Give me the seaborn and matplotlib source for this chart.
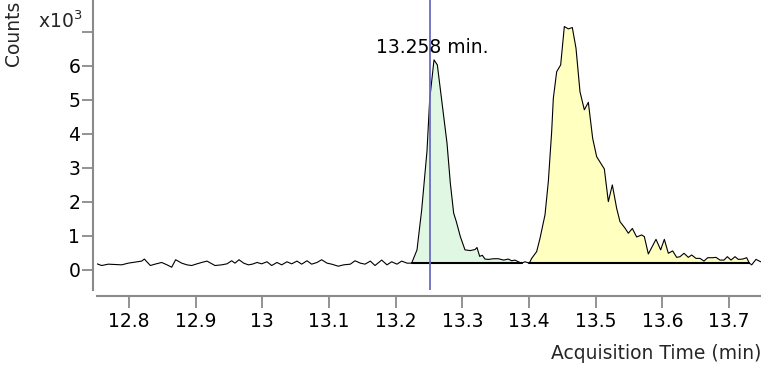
import numpy as np
import matplotlib
matplotlib.use("Agg")
import matplotlib.pyplot as plt
import seaborn as sns

# chromatogram trace (time in min, counts in x10^3)
times = [12.752, 12.759, 12.769, 12.789, 12.799, 12.812, 12.819, 12.823, 12.832, 12.839,
         12.849, 12.857, 12.864, 12.870, 12.879, 12.887, 12.894, 12.902, 12.909, 12.917,
         12.929, 12.939, 12.947, 12.954, 12.959, 12.965, 12.972, 12.979, 12.985, 12.992,
         12.999, 13.007, 13.014, 13.022, 13.029, 13.037, 13.044, 13.052, 13.059, 13.067,
         13.074, 13.082, 13.089, 13.097, 13.104, 13.114, 13.122, 13.132, 13.139, 13.147,
         13.154, 13.162, 13.169, 13.179, 13.187, 13.194, 13.202, 13.209, 13.217, 13.224,
         13.232, 13.239, 13.247, 13.251, 13.2575, 13.2625, 13.269, 13.277, 13.282, 13.287,
         13.291, 13.297, 13.304, 13.312, 13.319, 13.322, 13.326, 13.330, 13.334, 13.339,
         13.347, 13.354, 13.362, 13.369, 13.374, 13.379, 13.384, 13.389, 13.394, 13.4005,
         13.404, 13.4115, 13.4165, 13.424, 13.429, 13.434, 13.4365, 13.4415, 13.4475, 13.453,
         13.459, 13.465, 13.4705, 13.4765, 13.483, 13.489, 13.4955, 13.5015, 13.513, 13.519,
         13.525, 13.5315, 13.5365, 13.544, 13.549, 13.555, 13.5615, 13.569, 13.573, 13.579,
         13.5905, 13.5975, 13.603, 13.609, 13.6155, 13.6215, 13.6265, 13.6325, 13.639, 13.644,
         13.6505, 13.6565, 13.6625, 13.668, 13.6755, 13.6805, 13.6865, 13.6925, 13.6975, 13.703,
         13.709, 13.714, 13.7205, 13.7265, 13.7305, 13.734, 13.7405, 13.7475]
counts = [0.18, 0.13, 0.17, 0.15, 0.20, 0.24, 0.26, 0.32, 0.13, 0.17,
          0.22, 0.15, 0.08, 0.30, 0.20, 0.15, 0.13, 0.18, 0.22, 0.26,
          0.13, 0.15, 0.18, 0.27, 0.20, 0.30, 0.20, 0.15, 0.17, 0.22,
          0.18, 0.24, 0.13, 0.22, 0.15, 0.24, 0.18, 0.26, 0.17, 0.27,
          0.17, 0.22, 0.30, 0.20, 0.17, 0.11, 0.15, 0.17, 0.27, 0.20,
          0.17, 0.26, 0.13, 0.29, 0.15, 0.24, 0.17, 0.26, 0.20, 0.20,
          0.59, 1.76, 3.50, 5.00, 6.18, 6.03, 5.00, 3.73, 2.55, 1.67,
          1.42, 0.98, 0.59, 0.57, 0.60, 0.66, 0.40, 0.43, 0.32, 0.31,
          0.33, 0.33, 0.29, 0.32, 0.27, 0.29, 0.24, 0.20, 0.24, 0.20,
          0.34, 0.54, 0.93, 1.62, 2.60, 4.07, 5.05, 5.83, 6.03, 7.16,
          7.09, 7.13, 6.52, 5.24, 4.71, 4.93, 3.87, 3.33, 2.97, 2.01,
          2.50, 1.81, 1.42, 1.23, 1.08, 1.22, 0.97, 1.03, 0.98, 0.47,
          0.90, 0.59, 0.90, 0.49, 0.56, 0.37, 0.39, 0.49, 0.37, 0.44,
          0.34, 0.34, 0.26, 0.36, 0.36, 0.37, 0.29, 0.29, 0.39, 0.29,
          0.39, 0.31, 0.32, 0.36, 0.20, 0.15, 0.31, 0.24]

# integrated peaks
peak_starts = [13.224, 13.4005]
peak_ends = [13.389, 13.7305]
peak_base = [0.20, 0.20]
peak_colors = ['#e0f8e3', '#ffffc0']

marker_time = 13.251
peak_label = '13.258 min.'
peak_label_pos = (13.2545, 6.53)

x_ticks = [12.8, 12.9, 13.0, 13.1, 13.2, 13.3, 13.4, 13.5, 13.6, 13.7]
x_labels = ['12.8', '12.9', '13', '13.1', '13.2', '13.3', '13.4', '13.5', '13.6', '13.7']
y_ticks = [0, 1, 2, 3, 4, 5, 6, 7]
y_labels = ['0', '1', '2', '3', '4', '5', '6', '']

FS = 13.5

sns.set_theme(style='ticks')
plt.rcParams['font.family'] = ['DejaVu Sans']

t = np.array(times)
c = np.array(counts)

fig = plt.figure(figsize=(7.61, 3.66), dpi=100)
fig.patch.set_facecolor('white')
ax = fig.add_axes([97 / 761, 1 - 290 / 366, 664 / 761, 290 / 366])

# shaded peak areas + their baselines
for s, e, b, col in zip(peak_starts, peak_ends, peak_base, peak_colors):
    m = (t >= s - 1e-9) & (t <= e + 1e-9)
    ax.fill_between(t[m], c[m], b, color=col, lw=0, zorder=1)
    ax.plot([s, e], [b, b], color='black', lw=1.5, zorder=3)

sns.lineplot(x=t, y=c, ax=ax, color='black', lw=0.8, estimator=None, zorder=2)

ax.axvline(marker_time, color='#6b6bc4', lw=1.3, zorder=4)
ax.text(peak_label_pos[0], peak_label_pos[1], peak_label, ha='center', va='center',
        fontsize=FS, color='black', zorder=5)

ax.set_xlim(12.752, 13.748)
ax.set_ylim(-0.59, 7.94)
ax.set_xticks(x_ticks)
ax.set_xticklabels(x_labels)
ax.set_yticks(y_ticks)
ax.set_yticklabels(y_labels)

for side in ['top', 'right']:
    ax.spines[side].set_visible(False)
ax.spines['left'].set_position(('outward', 3))
ax.spines['bottom'].set_position(('outward', 4))
for side in ['left', 'bottom']:
    ax.spines[side].set_color('#8a8a8a')
    ax.spines[side].set_linewidth(1.5)

ax.tick_params(axis='y', length=8, width=1.3, color='#8a8a8a', pad=1, labelsize=FS, labelcolor='black')
ax.tick_params(axis='x', length=8.5, width=1.3, color='#8a8a8a', pad=3, labelsize=FS, labelcolor='black')
ax.set_facecolor('white')
ax.grid(False)

ax.set_xlabel('Acquisition Time (min)', fontsize=FS, loc='right', labelpad=10)
ax.set_ylabel('')

fig.text(14 / 761, 1 - 33 / 366, 'Counts', rotation=90, ha='center', va='center', fontsize=FS)
fig.text(38 / 761, 1 - 28 / 366, r'x10$^3$', ha='left', va='baseline', fontsize=FS)

fig.savefig('out.png', dpi=100)
plt.close()
